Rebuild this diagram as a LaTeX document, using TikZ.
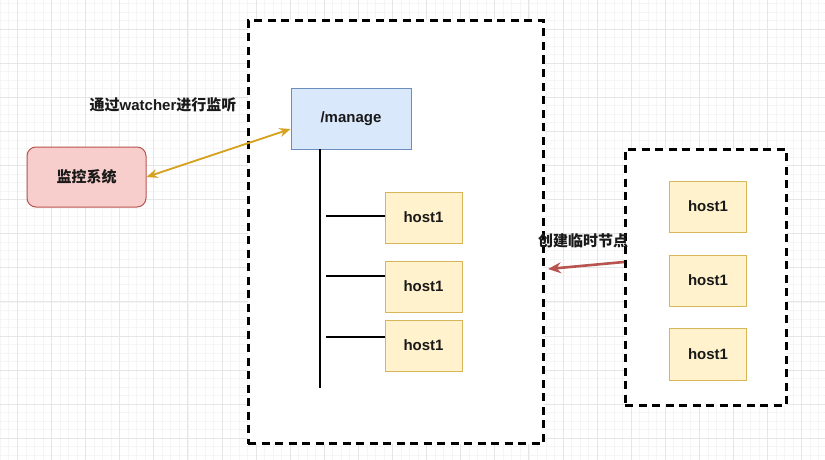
\documentclass[tikz,border=0pt]{standalone}
\usepackage{fontspec}
\setmainfont{Liberation Sans}
\newfontfamily\cjk{Noto Sans CJK SC}
\usetikzlibrary{arrows.meta}
\definecolor{gridmaj}{HTML}{E6E6E6}
\definecolor{gridmin}{HTML}{F5F5F5}
\definecolor{bluefill}{HTML}{DAE8FC}
\definecolor{bluestroke}{HTML}{6C8EBF}
\definecolor{hostfill}{HTML}{FFF2CC}
\definecolor{hoststroke}{HTML}{D6B656}
\definecolor{redfill}{HTML}{F8CECC}
\definecolor{redstroke}{HTML}{B85450}
\definecolor{gold}{HTML}{D6A21E}
\begin{document}
\begin{tikzpicture}[x=1pt,y=-1pt,
  every node/.style={font=\fontsize{15}{18}\selectfont\bfseries, text=black!90},
  hostbox/.style={draw=hoststroke, fill=hostfill, line width=1pt, minimum width=77pt, minimum height=51pt, inner sep=0pt},
  dashbox/.style={draw=black, line width=3pt, dash pattern=on 8pt off 5.5pt},
  lbl/.style={inner sep=0pt}]
\useasboundingbox (0,0) rectangle (825,460);
\fill[white] (0,0) rectangle (825,460);
% grid
\foreach \i in {0,...,100} {
  \pgfmathsetmacro\xx{17.3-34.1+\i*8.525}
  \ifdim\xx pt<825pt \draw[gridmin, line width=0.6pt] (\xx,0) -- (\xx,460); \fi
}
\foreach \i in {0,...,60} {
  \pgfmathsetmacro\yy{29-34.1+\i*8.525}
  \ifdim\yy pt<460pt \draw[gridmin, line width=0.6pt] (0,\yy) -- (825,\yy); \fi
}
\foreach \i in {0,...,24} {
  \pgfmathsetmacro\xx{17.3+\i*34.1}
  \draw[gridmaj, line width=0.8pt] (\xx,0) -- (\xx,460);
}
\foreach \i in {0,...,13} {
  \pgfmathsetmacro\yy{29+\i*34.1}
  \draw[gridmaj, line width=0.8pt] (0,\yy) -- (825,\yy);
}
% containers
\node[dashbox, fill=white, minimum width=295pt, minimum height=423pt, inner sep=0pt] (big) at (395.5,232) {};
\node[dashbox, fill=white, minimum width=161pt, minimum height=256pt, inner sep=0pt] (right) at (705.5,277) {};
% manage
\node[draw=bluestroke, fill=bluefill, line width=1pt, minimum width=120pt, minimum height=60pt, inner sep=0pt] (manage) at (351,119) {/manage};
\coordinate (vtop) at (320,149);
\coordinate (vbot) at (320,388);
\draw[black, line width=1.8pt] (vtop) -- (vbot);
% hosts
\node[hostbox] (h1) at (423.5,217.5) {host1};
\node[hostbox] (h2) at (423.5,286.5) {host1};
\node[hostbox] (h3) at (423.5,345.5) {host1};
\coordinate (s1) at (326,216);
\coordinate (s2) at (326,276);
\coordinate (s3) at (326,337);
\draw[black, line width=1.8pt] (s1) -- (h1.west |- s1);
\draw[black, line width=1.8pt] (s2) -- (h2.west |- s2);
\draw[black, line width=1.8pt] (s3) -- (h3.west |- s3);
\node[hostbox] (r1) at (708,206.5) {host1};
\node[hostbox] (r2) at (708,280.5) {host1};
\node[hostbox, minimum height=52pt] (r3) at (708,354) {host1};
% monitor
\node[draw=redstroke, fill=redfill, line width=1pt, rounded corners=9pt, minimum width=119pt, minimum height=60pt, inner sep=0pt] (mon) at (86.5,177) {\cjk 监控系统};
% labels
\node[lbl] (lw) at (163,105) {{\cjk 通过}watcher{\cjk 进行监听}};
\node[lbl] (lc) at (583,241) {\cjk 创建临时节点};
% arrows
\draw[gold, line width=1.8pt, {Stealth[length=11pt,width=9pt]}-{Stealth[length=11pt,width=9pt]}] (mon.east) -- (manage.west |- 0,129);
\coordinate (rs) at (624,262);
\coordinate (re) at (548,269);
\draw[redstroke, line width=2.6pt, -{Stealth[length=13pt,width=11pt]}] (rs) -- (re);
\end{tikzpicture}
\end{document}
